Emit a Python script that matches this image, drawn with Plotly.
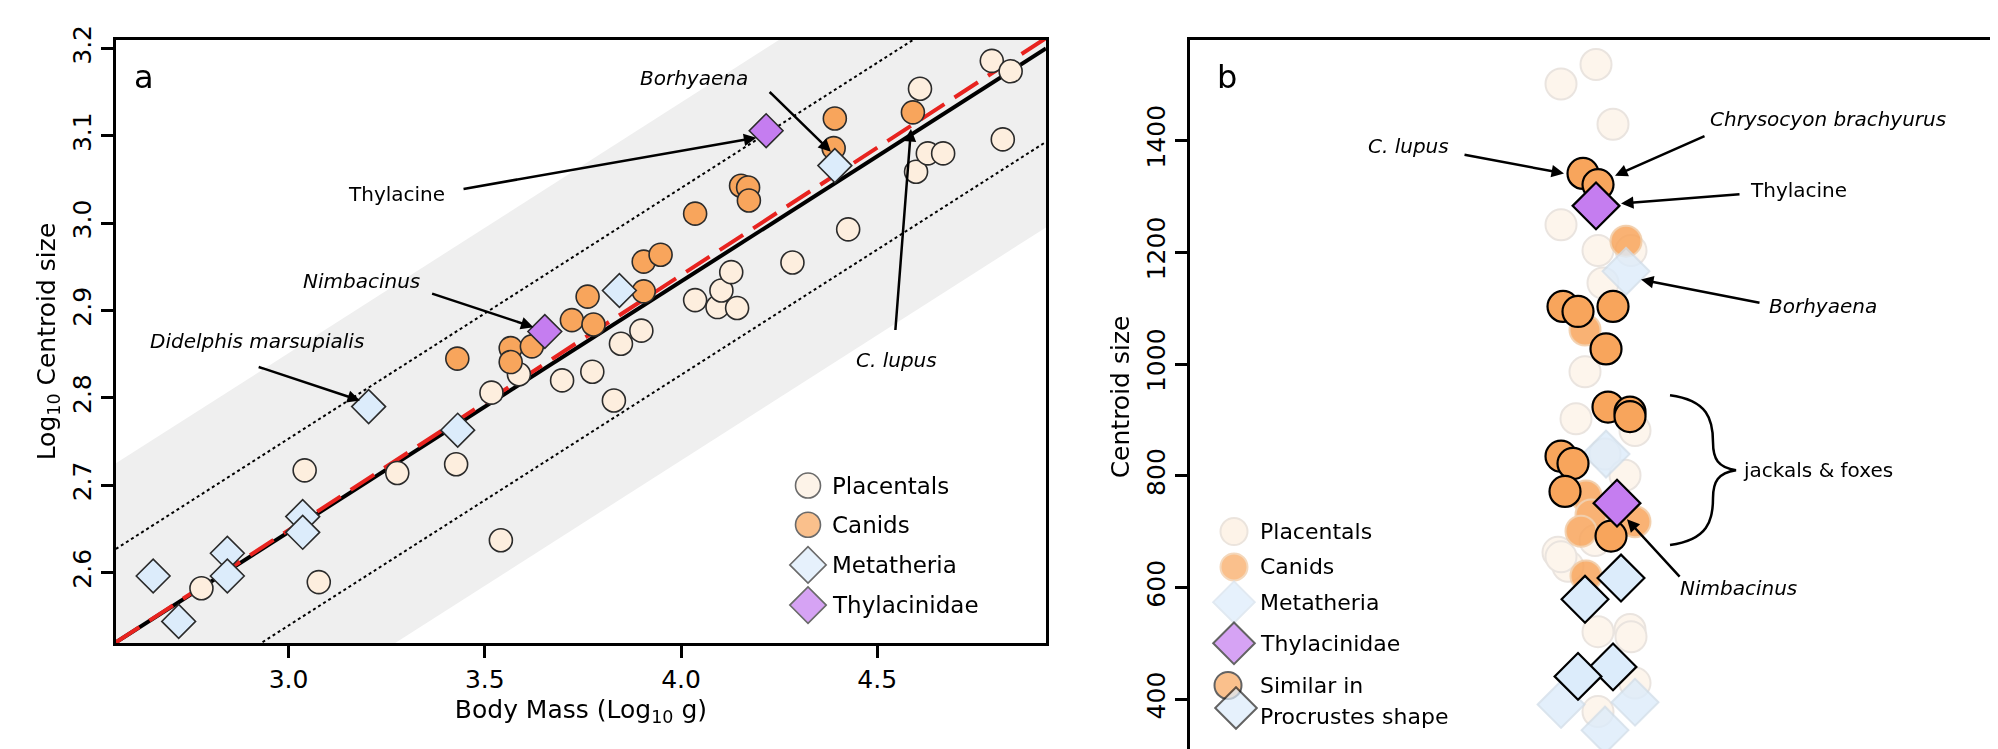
import plotly.graph_objects as go

# ---------- Panel a data ----------
plac_x = [2.778,3.041,3.077,3.277,3.427,3.517,3.587,3.541,3.697,3.774,3.829,3.847,3.899,4.036,4.093,4.103,4.143,4.128,4.284,4.426,4.609,4.599,4.629,4.668,4.792,4.840,4.820]
plac_y = [2.582,2.717,2.589,2.714,2.724,2.806,2.827,2.637,2.820,2.830,2.797,2.862,2.877,2.912,2.904,2.923,2.903,2.944,2.955,2.993,3.154,3.059,3.080,3.080,3.186,3.174,3.096]
canid_x = [3.430,3.566,3.566,3.620,3.722,3.762,3.777,3.905,3.905,3.948,4.036,4.153,4.171,4.173,4.392,4.389,4.591]
canid_y = [2.845,2.857,2.841,2.859,2.889,2.916,2.884,2.956,2.922,2.964,3.011,3.043,3.041,3.026,3.120,3.086,3.127]
meta_x = [2.655,2.720,2.844,2.844,3.036,3.036,3.204,3.431,3.843,4.392]
meta_y = [2.596,2.544,2.622,2.596,2.664,2.646,2.790,2.763,2.923,3.066]
thyl_x = [3.653,4.217]
thyl_y = [2.876,3.106]

x_range_a = [2.56, 4.93]
y_range_a = [2.519, 3.21]
fit_left_y, fit_slope = 2.52, 0.287
red_left_y, red_slope = 2.52, 0.292
pi_off, band_off = 0.107, 0.205

# ---------- Panel b data (x = jitter offset) ----------
bp_x = [-3.7,-0.2,1.5,-3.7,0,0.5,3.3,-1.3,-2.2,0.7,2.7,3.7,-3,-4,-3.7,0,3.2,3.3,3.7,0,-0.3]
bp_y = [1501,1536,1429,1249,1203,1145,1203,986,902,839,801,881,638,663,655,521,525,512,429,378,684]
bc_fx = [2.8,-1.3,-1.2,-0.7,-1.7,3.7,-1.2]
bc_fy = [1220,1061,764,730,701,718,621]
bm_fx = [2.8,0.8,-3.7,3.7,0.7]
bm_fy = [1166,839,391,395,345]
bc_x = [-1.5,0,-3.5,-2,1.5,0.8,1,3.2,3.2,-3.7,-2.5,-3.3,1.3]
bc_y = [1341,1321,1103,1094,1103,1027,923,914,906,835,822,772,692]
bm_x = [2.3,-1.3,1.5,-2]
bm_y = [617,579,458,441]
bt_x = [-0.2,1.9]
bt_y = [1283,751]
x_range_b = [-40.8, 40.2]
y_range_b = [302, 1580]

FILL = dict(plac="#fdeede", canid="#f8a55c", meta="#dcecfb", thyl="#c57df0")
EDGE = "#2b2b2b"
FONT = "DejaVu Sans"

fig = go.Figure()

def pts(x, y, sym, col, size, xa="x", ya="y", op=1.0, edge=EDGE, lw=1.6):
    fig.add_trace(go.Scatter(x=x, y=y, mode="markers", xaxis=xa, yaxis=ya, opacity=op,
                             marker=dict(symbol=sym, size=size, color=col, line=dict(color=edge, width=lw)),
                             showlegend=False, hoverinfo="skip"))

# band and lines
x0, x1 = x_range_a
fy0 = fit_left_y
fy1 = fit_left_y + fit_slope * (x1 - x0)
fig.add_trace(go.Scatter(x=[x0, x1, x1, x0], y=[fy0 + band_off, fy1 + band_off, fy1 - band_off, fy0 - band_off],
                         fill="toself", fillcolor="#efefef", line=dict(width=0), mode="lines",
                         showlegend=False, hoverinfo="skip"))
for off in (pi_off, -pi_off):
    fig.add_trace(go.Scatter(x=[x0, x1], y=[fy0 + off, fy1 + off], mode="lines",
                             line=dict(color="black", width=2, dash="dot"), showlegend=False, hoverinfo="skip"))
fig.add_trace(go.Scatter(x=[x0, x1], y=[fy0, fy1], mode="lines", line=dict(color="black", width=4),
                         showlegend=False, hoverinfo="skip"))
fig.add_trace(go.Scatter(x=[x0, x1], y=[red_left_y, red_left_y + red_slope * (x1 - x0)], mode="lines",
                         line=dict(color="#e8231f", width=4, dash="28px,12px"), showlegend=False, hoverinfo="skip"))

pts(plac_x, plac_y, "circle", FILL["plac"], 23)
pts(canid_x, canid_y, "circle", FILL["canid"], 23)
pts(meta_x, meta_y, "diamond", FILL["meta"], 26)
pts(thyl_x, thyl_y, "diamond", FILL["thyl"], 26)

# panel b
pts(bp_x, bp_y, "circle", FILL["plac"], 31, "x2", "y2", 0.55, "#d9cfc6", 2)
pts(bc_fx, bc_fy, "circle", FILL["canid"], 31, "x2", "y2", 0.85, "#f0c8a0", 2)
pts(bm_fx, bm_fy, "diamond", FILL["meta"], 36, "x2", "y2", 0.8, "#d0dce8", 2)
pts(bc_x, bc_y, "circle", FILL["canid"], 31, "x2", "y2", 1, "black", 2.2)
pts(bm_x, bm_y, "diamond", FILL["meta"], 36, "x2", "y2", 1, "black", 2.2)
pts(bt_x, bt_y, "diamond", FILL["thyl"], 36, "x2", "y2", 1, "black", 2.2)

# legends (overlay pixel axis)
leg_a_y = [472, 512, 553, 594]
leg_a_lab = ["Placentals", "Canids", "Metatheria", "Thylacinidae"]
leg_a_sym = ["circle", "circle", "diamond", "diamond"]
leg_a_col = [FILL["plac"], FILL["canid"], FILL["meta"], FILL["thyl"]]
fig.add_trace(go.Scatter(x=[800]*4, y=leg_a_y, mode="markers", xaxis="x3", yaxis="y3",
                         marker=dict(symbol=leg_a_sym, size=[25, 25, 28, 28], color=leg_a_col, line=dict(color=EDGE, width=1.6)),
                         showlegend=False, hoverinfo="skip"))
leg_b_y = [519, 555, 591, 633]
fig.add_trace(go.Scatter(x=[1226]*3, y=leg_b_y[:3], mode="markers", xaxis="x3", yaxis="y3",
                         marker=dict(symbol=["circle", "circle", "diamond"], size=[27, 27, 32],
                                     color=[FILL["plac"], FILL["canid"], FILL["meta"]],
                                     line=dict(color=["#e3d9cf", "#f0c8a0", "#d4e0ec"], width=2)),
                         showlegend=False, hoverinfo="skip"))
fig.add_trace(go.Scatter(x=[1226, 1220, 1228], y=[633, 676, 699], mode="markers", xaxis="x3", yaxis="y3",
                         marker=dict(symbol=["diamond", "circle", "diamond"], size=[32, 27, 32],
                                     color=[FILL["thyl"], FILL["canid"], FILL["meta"]],
                                     line=dict(color="#222", width=2)),
                         showlegend=False, hoverinfo="skip"))

ann = []
for lab, yy in zip(leg_a_lab, leg_a_y):
    ann.append(dict(x=822, y=yy, xref="x3", yref="y3", text=lab, showarrow=False, xanchor="left",
                    font=dict(size=23, family=FONT, color="black")))
for lab, yy in zip(["Placentals", "Canids", "Metatheria", "Thylacinidae", "Similar in", "Procrustes shape"],
                   [519, 555, 591, 633, 676, 708]):
    ann.append(dict(x=1250, y=yy, xref="x3", yref="y3", text=lab, showarrow=False, xanchor="left",
                    font=dict(size=22, family=FONT, color="black")))

def label(x, y, t, xa="x", ya="y", italic=True, size=20):
    ann.append(dict(x=x, y=y, xref=xa, yref=ya, text=f"<i>{t}</i>" if italic else t, showarrow=False,
                    font=dict(size=size, family=FONT, color="black")))

def arrow(tx, ty, hx, hy, xa="x", ya="y"):
    ann.append(dict(x=hx, y=hy, ax=tx, ay=ty, xref=xa, yref=ya, axref=xa, ayref=ya, text="",
                    showarrow=True, arrowhead=2, arrowsize=1, arrowwidth=2.5, arrowcolor="black"))

label(3.274, 3.034, "Thylacine", italic=False); arrow(3.442, 3.039, 4.192, 3.098)
label(4.032, 3.166, "Borhyaena"); arrow(4.222, 3.152, 4.382, 3.082)
label(3.187, 2.934, "Nimbacinus"); arrow(3.362, 2.920, 3.624, 2.881)
label(2.92, 2.865, "Didelphis marsupialis"); arrow(2.92, 2.836, 3.182, 2.797)
label(4.548, 2.843, "C. lupus"); arrow(4.546, 2.876, 4.586, 3.108)

label(-19, 1390, "C. lupus", "x2", "y2"); arrow(-13.5, 1375, -3.4, 1341, "x2", "y2")
label(23, 1438, "Chrysocyon brachyurus", "x2", "y2"); arrow(10.8, 1409, 1.7, 1337, "x2", "y2")
label(20, 1312, "Thylacine", "x2", "y2", italic=False); arrow(14.3, 1304, 2.3, 1287, "x2", "y2")
label(22.5, 1103, "Borhyaena", "x2", "y2"); arrow(16.3, 1109, 4.3, 1151, "x2", "y2")
label(14, 600, "Nimbacinus", "x2", "y2"); arrow(8.3, 617, 2.9, 722, "x2", "y2")
label(22, 810, "jackals &amp; foxes", "x2", "y2", italic=False)

ann.append(dict(x=0.062, y=0.955, xref="paper", yref="paper", text="a", showarrow=False,
                xanchor="left", yanchor="top", font=dict(size=32, family=FONT, color="black")))
ann.append(dict(x=0.604, y=0.955, xref="paper", yref="paper", text="b", showarrow=False,
                xanchor="left", yanchor="top", font=dict(size=32, family=FONT, color="black")))

brace = ("M 7.2,944 C 11,935 11.5,900 11.5,860 C 11.5,830 12,815 13.8,810 "
         "C 12,805 11.5,790 11.5,760 C 11.5,720 11,685 7.2,676")

ax_common = dict(showline=True, linecolor="black", linewidth=3, mirror=True, showgrid=False, zeroline=False,
                 ticklen=12, tickwidth=3, tickcolor="black",
                 tickfont=dict(size=25, family=FONT, color="black"))
fig.update_layout(
    width=1998, height=749, margin=dict(l=0, r=0, t=0, b=0),
    plot_bgcolor="rgba(0,0,0,0)", paper_bgcolor="white",
    xaxis=dict(domain=[0.054, 0.5195], range=x_range_a, ticks="outside", tickvals=[3.0, 3.5, 4.0, 4.5],
               ticktext=["3.0", "3.5", "4.0", "4.5"],
               title=dict(text="Body Mass (Log<sub>10</sub> g)", font=dict(size=25, family=FONT, color="black"), standoff=8), **ax_common),
    yaxis=dict(domain=[0.155, 0.977], range=y_range_a, ticks="outside", tickvals=[2.6, 2.7, 2.8, 2.9, 3.0, 3.1, 3.2],
               ticktext=["2.6", "2.7", "2.8", "2.9", "3.0", "3.1", "3.2"], tickangle=-90,
               title=dict(text="Log<sub>10</sub> Centroid size", font=dict(size=25, family=FONT, color="black"), standoff=6), **ax_common),
    xaxis2=dict(domain=[0.5916, 0.997], range=x_range_b, showticklabels=False, ticks="", anchor="y2", **ax_common),
    yaxis2=dict(domain=[0.004, 0.977], range=y_range_b, anchor="x2", ticks="outside", tickvals=[400, 600, 800, 1000, 1200, 1400], tickangle=-90,
                title=dict(text="Centroid size", font=dict(size=25, family=FONT, color="black"), standoff=6), **ax_common),
    xaxis3=dict(domain=[0, 1], range=[0, 1998], visible=False, anchor="y3", fixedrange=True),
    yaxis3=dict(domain=[0, 1], range=[749, 0], visible=False, anchor="x3", fixedrange=True),
    annotations=ann,
    shapes=[dict(type="path", path=brace, xref="x2", yref="y2", line=dict(color="black", width=2.5))],
)
fig.write_html("out.html")
